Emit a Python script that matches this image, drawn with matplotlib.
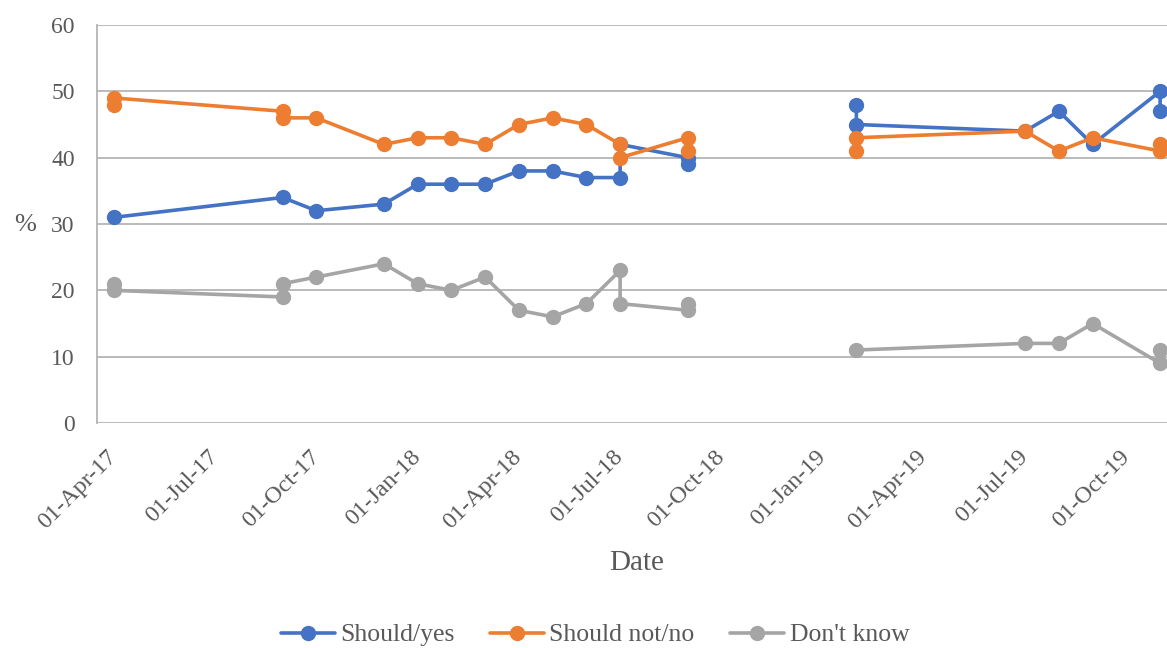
import numpy as np
import matplotlib
matplotlib.use("Agg")
import matplotlib.pyplot as plt
from datetime import date

# ---- data (month of poll, value in %) ; None marks a gap in the series ----
yes_months = ["2017-04", "2017-09", "2017-10", "2017-12", "2018-01", "2018-02", "2018-03",
              "2018-04", "2018-05", "2018-06", "2018-07", "2018-07", "2018-09", "2018-09", None,
              "2019-02", "2019-02", "2019-07", "2019-08", "2019-09", "2019-11", "2019-11"]
yes_vals = [31, 34, 32, 33, 36, 36, 36, 38, 38, 37, 37, 42, 40, 39, None,
            48, 45, 44, 47, 42, 50, 47]

no_months = ["2017-04", "2017-04", "2017-09", "2017-09", "2017-10", "2017-12", "2018-01",
             "2018-02", "2018-03", "2018-04", "2018-05", "2018-06", "2018-07", "2018-07",
             "2018-09", "2018-09", None,
             "2019-02", "2019-02", "2019-07", "2019-08", "2019-09", "2019-11", "2019-11"]
no_vals = [48, 49, 47, 46, 46, 42, 43, 43, 42, 45, 46, 45, 42, 40, 43, 41, None,
           41, 43, 44, 41, 43, 41, 42]

dk_months = ["2017-04", "2017-04", "2017-09", "2017-09", "2017-10", "2017-12", "2018-01",
             "2018-02", "2018-03", "2018-04", "2018-05", "2018-06", "2018-07", "2018-07",
             "2018-09", "2018-09", None,
             "2019-02", "2019-07", "2019-08", "2019-09", "2019-11", "2019-11"]
dk_vals = [21, 20, 19, 21, 22, 24, 21, 20, 22, 17, 16, 18, 23, 18, 17, 18, None,
           11, 12, 12, 15, 9, 11]

tick_months = ["2017-04", "2017-07", "2017-10", "2018-01", "2018-04", "2018-07",
               "2018-10", "2019-01", "2019-04", "2019-07", "2019-10"]

series_names = ["Should/yes", "Should not/no", "Don't know"]
colors = ["#4472C4", "#ED7D31", "#A5A5A5"]

START = (2017, 4)


def month_index(m):
    if m is None:
        return np.nan
    y, mo = map(int, m.split("-"))
    return (y - START[0]) * 12 + (mo - START[1])


def to_arr(v):
    return np.array([np.nan if a is None else a for a in v], dtype=float)


plt.rcParams["font.family"] = ["Liberation Serif", "DejaVu Serif"]
TXT = "#595959"
GRID = "#B4B4B4"

W, H = 1167, 648
fig = plt.figure(figsize=(W / 100, H / 100), dpi=100)
left, right, top, bottom = 97, 1177, 25, 423
ax = fig.add_axes([left / W, 1 - bottom / H, (right - left) / W, (bottom - top) / H])

for months, vals, name, c in zip([yes_months, no_months, dk_months],
                                 [yes_vals, no_vals, dk_vals], series_names, colors):
    x = np.array([month_index(m) for m in months])
    y = to_arr(vals)
    ax.plot(x, y, "-o", color=c, lw=2.6, ms=10, label=name, solid_capstyle="round",
            zorder=3)

ax.set_xlim(-0.5, 31.5)
ax.set_ylim(0, 60)
ax.set_yticks(range(0, 61, 10))
ax.grid(axis="y", color=GRID, lw=1.3, zorder=0)
ax.set_axisbelow(True)

tpos = [month_index(m) for m in tick_months]
tlabels = [date(int(m[:4]), int(m[5:]), 1).strftime("%d-%b-%y") for m in tick_months]
ax.set_xticks(tpos)
ax.set_xticklabels(tlabels, rotation=45, ha="right", va="center", rotation_mode="anchor")

ax.tick_params(axis="x", length=0, pad=22, labelsize=17.5, labelcolor=TXT)
ax.tick_params(axis="y", length=0, pad=16, labelsize=17, labelcolor=TXT)

for s in ["top", "right", "bottom"]:
    ax.spines[s].set_visible(False)
ax.spines["left"].set_color(GRID)
ax.spines["left"].set_linewidth(1.3)

fig.text(25 / W, 1 - 225 / H, "%", ha="center", va="center", fontsize=19, color=TXT)
fig.text(637 / W, 1 - 563 / H, "Date", ha="center", va="center", fontsize=21, color=TXT)

leg = fig.legend(loc="center", bbox_to_anchor=(595 / W, 1 - 635 / H), ncol=3,
                 frameon=False, fontsize=18.5, handlelength=2.1, columnspacing=1.4,
                 handletextpad=0.2, labelcolor=TXT)
for h in leg.legend_handles:
    h.set_markersize(10)

fig.savefig("out.png", dpi=100)
